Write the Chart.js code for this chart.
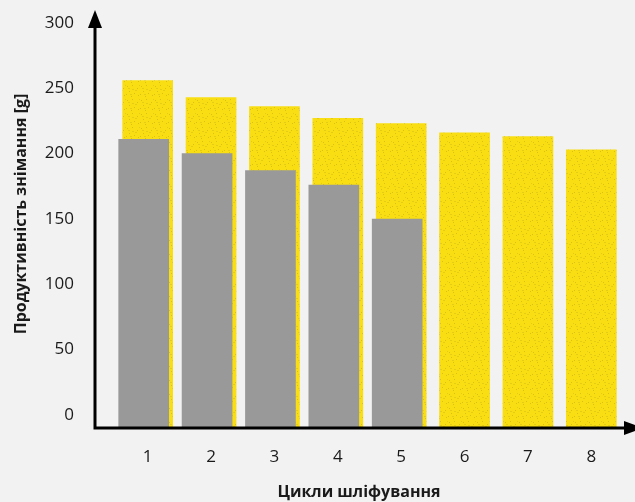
<!DOCTYPE html>
<html>
<head>
<meta charset="utf-8">
<script src="https://cdn.jsdelivr.net/npm/chart.js@4"></script>
<style>
  html, body { margin: 0; padding: 0; background: #f2f2f2; }
  canvas { display: block; }
</style>
</head>
<body>
<canvas id="chart" width="635" height="502"></canvas>
<script>
const cycles = ['1', '2', '3', '4', '5', '6', '7', '8'];
const yellowValues = [256, 243, 236, 227, 223, 216, 213, 203];
const grayValues = [211, 200, 187, 176, 150];
const yTicks = [0, 50, 100, 150, 200, 250, 300];
const yFloor = -10;
const xTitle = 'Цикли шліфування';
const yTitle = 'Продуктивність знімання [g]';

const FONT = "'Open Sans', 'Noto Sans', sans-serif";

function makeSpeckles() {
  const c = document.createElement('canvas');
  c.width = 14; c.height = 14;
  const g = c.getContext('2d');
  g.fillStyle = '#f8de12';
  g.fillRect(0, 0, 14, 14);
  g.fillStyle = 'rgba(170, 150, 30, 0.4)';
  [[1, 2], [6, 1], [11, 4], [3, 7], [8, 9], [12, 11], [5, 12], [0, 10]].forEach(([x, y]) => g.fillRect(x, y, 1, 1));
  g.fillStyle = 'rgba(170, 150, 30, 0.25)';
  [[9, 6], [2, 4], [6, 5], [13, 1], [4, 10]].forEach(([x, y]) => g.fillRect(x, y, 2, 1));
  return g.createPattern(c, 'repeat');
}

// axis lines with arrow heads, plus the two axis titles
const arrowAxes = {
  id: 'arrowAxes',
  afterDatasetsDraw(chart) {
    const { ctx, chartArea } = chart;
    const x0 = chartArea.left - 21;
    const y0 = chartArea.bottom;
    ctx.save();
    ctx.strokeStyle = '#000';
    ctx.fillStyle = '#000';
    ctx.lineWidth = 3;
    ctx.beginPath();
    ctx.moveTo(x0, y0 + 1.5);
    ctx.lineTo(x0, 26);
    ctx.moveTo(x0 - 1.5, y0);
    ctx.lineTo(626, y0);
    ctx.stroke();
    ctx.beginPath();
    ctx.moveTo(x0, 10);
    ctx.lineTo(x0 - 7, 28);
    ctx.lineTo(x0 + 7, 28);
    ctx.closePath();
    ctx.fill();
    ctx.beginPath();
    ctx.moveTo(643, y0);
    ctx.lineTo(624, y0 - 7);
    ctx.lineTo(624, y0 + 7);
    ctx.closePath();
    ctx.fill();

    ctx.fillStyle = '#1a1a1a';
    ctx.font = 'bold 16px ' + FONT;
    ctx.textAlign = 'center';
    ctx.textBaseline = 'middle';
    ctx.fillText(xTitle, (x0 + chartArea.right) / 2, 492);
    ctx.translate(21, 214);
    ctx.rotate(-Math.PI / 2);
    ctx.fillText(yTitle, 0, 0);
    ctx.restore();
  }
};

new Chart(document.getElementById('chart'), {
  type: 'bar',
  data: {
    labels: cycles,
    datasets: [
      {
        label: 'gray',
        data: grayValues,
        xAxisID: 'x2',
        backgroundColor: '#999999',
        barThickness: 50,
        base: yFloor,
        grouped: false,
        order: 0
      },
      {
        label: 'yellow',
        data: yellowValues,
        xAxisID: 'x',
        backgroundColor: makeSpeckles(),
        barThickness: 50,
        base: yFloor,
        grouped: false,
        order: 1
      }
    ]
  },
  options: {
    responsive: false,
    animation: false,
    layout: { padding: { left: 0, right: 12, top: 23, bottom: 0 } },
    plugins: { legend: { display: false }, tooltip: { enabled: false } },
    scales: {
      x: {
        type: 'category',
        offset: true,
        grid: { display: false, drawTicks: false },
        border: { display: false },
        ticks: { color: '#1a1a1a', padding: 19, font: { family: FONT, size: 17 } },
        afterFit(scale) {
          scale.height = 74;
          scale.paddingLeft = 0;
          scale.paddingRight = 0;
        }
      },
      x2: {
        type: 'linear',
        display: false,
        offset: false,
        min: 0.563,
        max: 8.563
      },
      y: {
        min: yFloor,
        max: 300,
        grid: { display: false, drawTicks: false },
        border: { display: false },
        afterBuildTicks(scale) { scale.ticks = yTicks.map(v => ({ value: v })); },
        ticks: { color: '#1a1a1a', padding: 42, font: { family: FONT, size: 17 } },
        afterFit(scale) {
          scale.width = 116;
          scale.paddingTop = 0;
          scale.paddingBottom = 0;
        }
      }
    }
  },
  plugins: [arrowAxes]
});
</script>
</body>
</html>
